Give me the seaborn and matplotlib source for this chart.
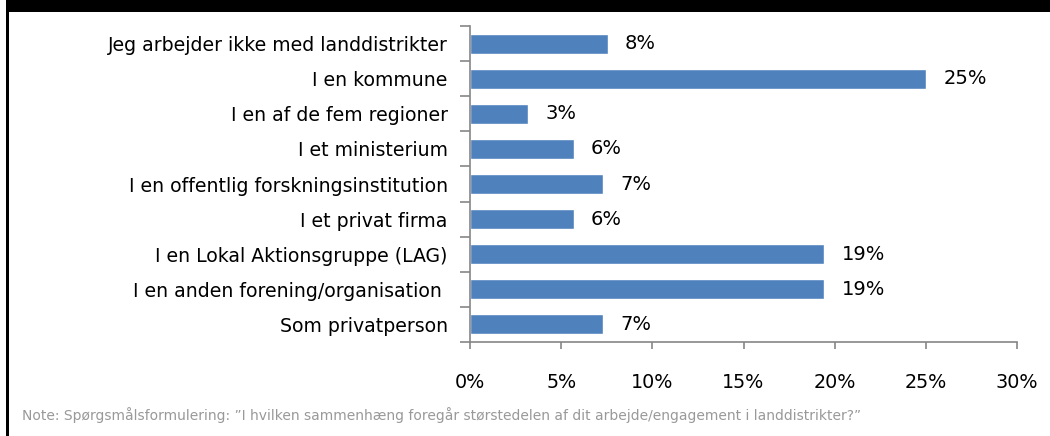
import seaborn as sns
import matplotlib.pyplot as plt
import matplotlib.ticker as mticker
from matplotlib.patches import Rectangle
import pandas as pd
import numpy as np

categories = [
    "Jeg arbejder ikke med landdistrikter",
    "I en kommune",
    "I en af de fem regioner",
    "I et ministerium",
    "I en offentlig forskningsinstitution",
    "I et privat firma",
    "I en Lokal Aktionsgruppe (LAG)",
    "I en anden forening/organisation ",
    "Som privatperson",
]
values = [7.55, 25.0, 3.17, 5.69, 7.28, 5.69, 19.43, 19.43, 7.28]
labels = ["8%", "25%", "3%", "6%", "7%", "6%", "19%", "19%", "7%"]
xticks = [0, 5, 10, 15, 20, 25, 30]
note = ("Note: Sp\u00f8rgsm\u00e5lsformulering: \u201dI hvilken sammenh\u00e6ng foreg\u00e5r "
        "st\u00f8rstedelen af dit arbejde/engagement i landdistrikter?\u201d")

df = pd.DataFrame({"kategori": categories, "andel": values})

sns.set_style("white")
plt.rcParams["font.family"] = ["DejaVu Sans"]
plt.rcParams["text.color"] = "black"
plt.rcParams["xtick.color"] = "black"
plt.rcParams["ytick.color"] = "black"

W, H = 1050, 436
fig = plt.figure(figsize=(W / 100, H / 100), dpi=100)
ax = fig.add_axes([470 / W, 1 - 342 / H, (1017 - 470) / W, (342 - 26) / H])

sns.barplot(data=df, y="kategori", x="andel", color="#4F81BD", width=0.57,
            saturation=1, ax=ax, orient="h")

for i, (v, lab) in enumerate(zip(values, labels)):
    ax.text(v + 0.95, i, lab, va="center", ha="left", fontsize=14, color="black")

ax.set_xlim(0, 30)
ax.set_ylim(len(categories) - 0.5, -0.5)
ax.set_xticks(xticks)
ax.xaxis.set_major_formatter(mticker.FuncFormatter(lambda x, p: f"{x:.0f}%"))
ax.set_xlabel("")
ax.set_ylabel("")

ax.set_yticks(np.arange(-0.5, len(categories), 1), minor=True)
ax.tick_params(axis="y", which="major", length=0, pad=16, labelsize=13.6, labelcolor="black")
ax.tick_params(axis="y", which="minor", length=7, width=1.2, color="#868686", direction="out", left=True)
ax.tick_params(axis="x", which="major", length=5, width=1.2, color="#868686", direction="out",
               bottom=True, pad=17, labelsize=13.8, labelcolor="black")

for side in ["top", "right"]:
    ax.spines[side].set_visible(False)
for side in ["left", "bottom"]:
    ax.spines[side].set_color("#868686")
    ax.spines[side].set_linewidth(1.2)

fig.text(22 / W, 1 - 415 / H, note, fontsize=10, color="#999999", va="center", ha="left")

# black frame pieces from the surrounding document
fig.add_artist(Rectangle((6 / W, 1 - 12 / H), 1 - 6 / W, 12 / H, transform=fig.transFigure,
                         color="black", lw=0))
fig.add_artist(Rectangle((6 / W, 0), 2.5 / W, 1, transform=fig.transFigure,
                         color="black", lw=0))

plt.savefig("out.png", dpi=100)
